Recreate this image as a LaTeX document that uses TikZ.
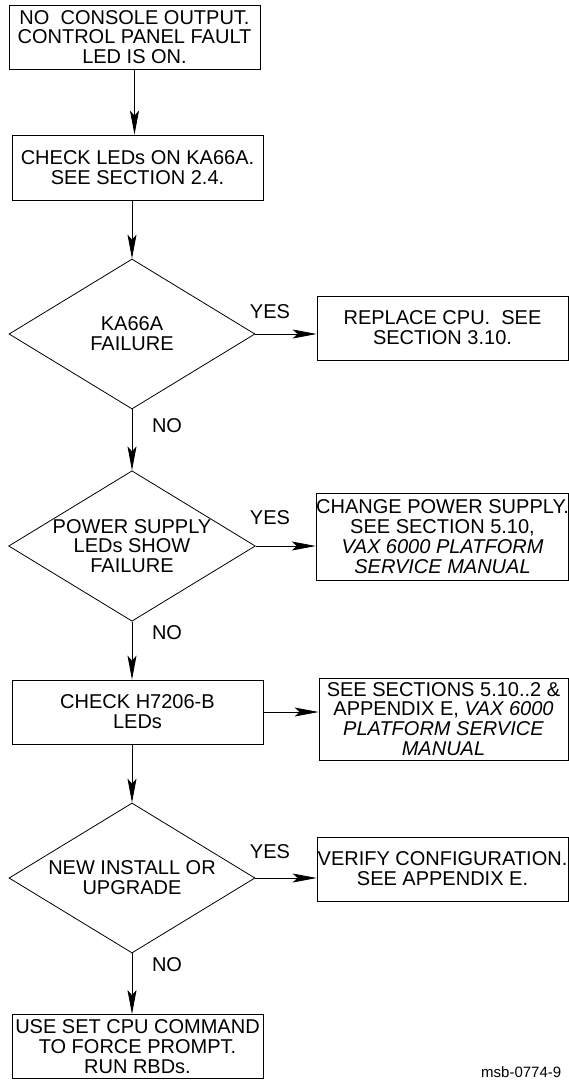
\documentclass[tikz,border=0pt]{standalone}
\usepackage{fontspec}
\setmainfont{Liberation Sans}
\usetikzlibrary{positioning, shapes.geometric, arrows.meta}

\begin{document}
\begin{tikzpicture}[x=1pt, y=-1pt,
    box/.style={draw, line width=0.8pt, minimum width=251pt, minimum height=64pt,
                inner sep=0pt, align=center, font=\fontsize{20}{19.8}\selectfont},
    decision/.style={draw, diamond, line width=0.8pt, aspect=1.64, minimum width=246pt,
                minimum height=150pt, inner sep=0pt, align=center,
                font=\fontsize{20}{19.8}\selectfont},
    arr/.style={line width=0.8pt, -{Stealth[length=24pt, width=9pt, inset=5pt]}},
    lbl/.style={font=\fontsize{20}{20}\selectfont, inner sep=0pt}]
  \clip (0,0) rectangle (569,1080);
  % left column
  \node[box] (start) at (134.5,37)
    {NO\ \ CONSOLE OUTPUT.\\ CONTROL PANEL FAULT\\ LED IS ON.};
  \node[box, minimum height=65pt] (check) at (137.5,167.5)
    {CHECK LEDs ON KA66A.\\ SEE SECTION 2.4.};
  \node[decision] (cpufail) at (132,334) {KA66A\\ FAILURE};
  \node[decision] (psufail) at (132,546) {POWER SUPPLY\\ LEDs SHOW\\ FAILURE};
  \node[box] (checkh) at (137.5,712) {CHECK H7206-B\\ LEDs};
  \node[decision] (newinst) at (132,878) {NEW INSTALL OR\\ UPGRADE};
  \node[box] (setcpu) at (137.5,1046.5)
    {USE SET CPU COMMAND\\ TO FORCE PROMPT.\\ RUN RBDs.};
  % right column
  \node[box] (replcpu) at (442.5,328) {REPLACE CPU.\ \ SEE\\ SECTION 3.10.};
  \node[box, minimum height=87pt] (chgpsu) at (442.5,536.5)
    {CHANGE POWER SUPPLY.\\ SEE SECTION 5.10,\\ \textit{VAX 6000 PLATFORM}\\
     \textit{SERVICE MANUAL}};
  \node[box, minimum width=249pt, minimum height=82pt] (seesect) at (443.5,719)
    {SEE SECTIONS 5.10..2 \&\\ APPENDIX E, \textit{VAX 6000}\\
     \textit{PLATFORM SERVICE}\\ \textit{MANUAL}};
  \node[box] (verify) at (442.5,869) {VERIFY CONFIGURATION.\\ SEE APPENDIX E.};
  % labels
  \node[lbl] (yes1) at (270,312) {YES};
  \node[lbl] (no1) at (167,426) {NO};
  \node[lbl] (yes2) at (270,518) {YES};
  \node[lbl] (no2) at (167,633) {NO};
  \node[lbl] (yes3) at (270,852) {YES};
  \node[lbl] (no3) at (167,965) {NO};
  \node[font=\fontsize{15}{15}\selectfont, inner sep=0pt, anchor=base west]
    (figid) at (481,1077) {msb-0774-9};
  % arrows
  \draw[arr] (start.south) -- (start.south |- check.north);
  \draw[arr] (cpufail.north |- check.south) -- (cpufail.north);
  \draw[arr] (cpufail.south) -- (psufail.north);
  \draw[arr] (psufail.south) -- (psufail.south |- checkh.north);
  \draw[arr] (newinst.north |- checkh.south) -- (newinst.north);
  \draw[arr] (newinst.south) -- (newinst.south |- setcpu.north);
  \draw[arr] (cpufail.east) -- (cpufail.east -| replcpu.west);
  \draw[arr] (psufail.east) -- (psufail.east -| chgpsu.west);
  \draw[arr] (checkh.east) -- (checkh.east -| seesect.west);
  \draw[arr] (newinst.east) -- (newinst.east -| verify.west);
\end{tikzpicture}
\end{document}
